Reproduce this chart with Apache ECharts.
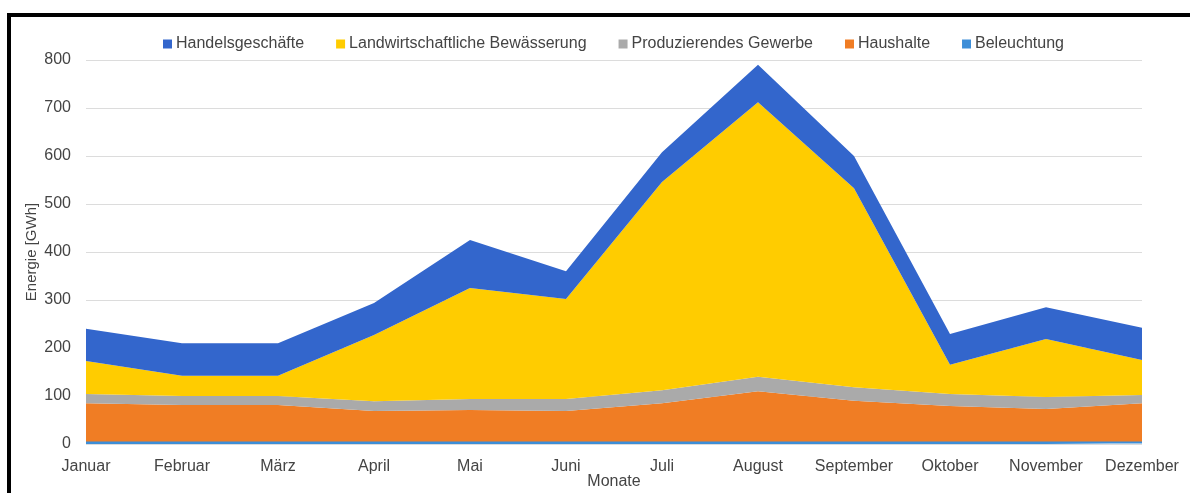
<!DOCTYPE html>
<html>
<head>
<meta charset="utf-8">
<title>Energieverbrauch nach Monaten</title>
<script src="https://cdn.jsdelivr.net/npm/echarts@6/dist/echarts.min.js"></script>
<style>
  html, body { margin: 0; padding: 0; background: #fff; overflow: hidden; }
  #frame {
    position: absolute; left: 7px; top: 13px;
    width: 1220px; height: 520px;
    border: 4px solid #000; box-sizing: border-box;
  }
  #chart { position: absolute; left: 0; top: 0; width: 1190px; height: 493px; }
</style>
</head>
<body>
<div id="frame"></div>
<div id="chart"></div>
<script>
// Monate
const months = ['Januar', 'Februar', 'März', 'April', 'Mai', 'Juni', 'Juli',
  'August', 'September', 'Oktober', 'November', 'Dezember'];

// Energieverbrauch je Sektor in GWh (gestapelt von unten nach oben)
const beleuchtung     = [3, 3, 3, 3, 3, 3, 3, 3, 3, 3, 3, 3];
const haushalte       = [82, 78, 78, 66, 68, 66, 82, 107, 87, 76, 70, 82];
const gewerbe         = [19, 19, 19, 20, 23, 25, 27, 30, 28, 25, 25, 17];
const landwirtschaft  = [69, 42, 42, 138, 231, 208, 434, 572, 415, 61, 121, 73];
const handel          = [67, 68, 68, 67, 100, 58, 62, 78, 67, 64, 66, 67];

// Achsenbeschriftung
const yTicks = [0, 100, 200, 300, 400, 500, 600, 700, 800];

const FONT = '"Liberation Sans", Arial, sans-serif';
const TEXT = '#444';

const chart = echarts.init(document.getElementById('chart'), null, { renderer: 'canvas' });

function area(name, data, color, lineWidth) {
  return {
    name: name,
    type: 'line',
    stack: 'energie',
    data: data,
    symbol: 'none',
    smooth: false,
    color: color,
    lineStyle: { width: lineWidth, color: color },
    areaStyle: { color: color, opacity: 1 },
    emphasis: { disabled: true }
  };
}

chart.setOption({
  animation: false,
  backgroundColor: 'transparent',
  textStyle: { fontFamily: FONT },
  legend: {
    left: 158,
    top: 31,
    itemWidth: 9,
    itemHeight: 9,
    itemGap: 32,
    icon: 'rect',
    textStyle: { fontFamily: FONT, fontSize: 16, color: TEXT, padding: [0, 0, 0, -1] },
    data: ['Handelsgeschäfte', 'Landwirtschaftliche Bewässerung',
      'Produzierendes Gewerbe', 'Haushalte', 'Beleuchtung']
  },
  grid: { left: 86, right: 48, top: 60, bottom: 49, outerBoundsMode: 'none', containLabel: false },
  xAxis: {
    type: 'category',
    data: months,
    boundaryGap: false,
    name: 'Monate',
    nameLocation: 'middle',
    nameGap: 30,
    nameMoveOverlap: false,
    nameTextStyle: { fontFamily: FONT, fontSize: 16, color: TEXT },
    axisLine: { show: false },
    axisTick: { show: false },
    axisLabel: { fontFamily: FONT, fontSize: 16, color: TEXT, margin: 15, interval: 0 },
    splitLine: { show: false }
  },
  yAxis: {
    type: 'value',
    min: yTicks[0],
    max: yTicks[yTicks.length - 1],
    interval: yTicks[1] - yTicks[0],
    name: 'Energie [GWh]',
    nameLocation: 'middle',
    nameGap: 47,
    nameMoveOverlap: false,
    nameTextStyle: { fontFamily: FONT, fontSize: 15, color: TEXT },
    axisLine: { show: false },
    axisTick: { show: false },
    axisLabel: { fontFamily: FONT, fontSize: 16, color: TEXT, margin: 15 },
    splitLine: { lineStyle: { color: '#dcdcdc', width: 1 } }
  },
  series: [
    area('Beleuchtung', beleuchtung, '#3d8ed8', 2),
    area('Haushalte', haushalte, '#f07d24', 0),
    area('Produzierendes Gewerbe', gewerbe, '#aaaaaa', 0),
    area('Landwirtschaftliche Bewässerung', landwirtschaft, '#ffcc00', 0),
    area('Handelsgeschäfte', handel, '#3366cc', 0)
  ]
});
</script>
</body>
</html>
